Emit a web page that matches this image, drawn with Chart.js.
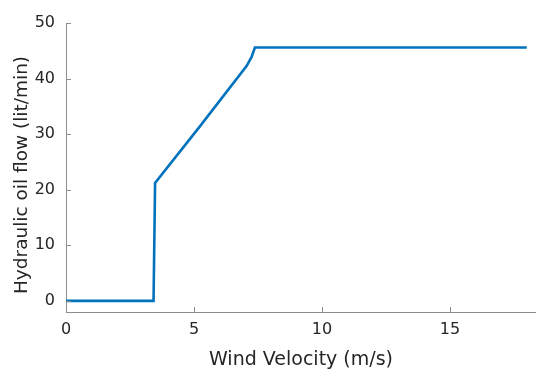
<!DOCTYPE html>
<html>
<head>
<meta charset="utf-8">
<script src="https://cdn.jsdelivr.net/npm/chart.js@4"></script>
<style>
  html, body { margin: 0; padding: 0; background: #fff; }
  #wrap { width: 536px; height: 372px; }
</style>
</head>
<body>
<div id="wrap"><canvas id="chart" width="536" height="372"></canvas></div>
<script>
'use strict';

// wind velocity (m/s) and hydraulic oil flow (lit/min)
const windVelocity = [0, 3.42, 3.48, 5.23, 7.06, 7.25, 7.38, 18.0];
const oilFlow      = [0, 0,    21.2, 31.4, 42.3, 43.9, 45.6, 45.6];

const xTicks = [0, 5, 10, 15];
const yTicks = [0, 10, 20, 30, 40, 50];

const xLabel = 'Wind Velocity (m/s)';
const yLabel = 'Hydraulic oil flow (lit/min)';

const points = windVelocity.map((v, i) => ({ x: v, y: oilFlow[i] }));

const font = "'DejaVu Sans', sans-serif";
const axisGrey = '#8c8c8c';
const textColor = '#262626';

// MATLAB-style ticks pointing into the plot, plus the y label
const axisExtras = {
    id: 'axisExtras',
    afterDraw(chart) {
        const { ctx, chartArea: a, scales: { x, y } } = chart;
        ctx.save();
        ctx.strokeStyle = axisGrey;
        ctx.lineWidth = 1;
        ctx.beginPath();
        xTicks.forEach(t => {
            const px = Math.round(x.getPixelForValue(t)) + 0.5;
            ctx.moveTo(px, a.bottom);
            ctx.lineTo(px, a.bottom - 5);
        });
        yTicks.forEach(t => {
            const py = Math.round(y.getPixelForValue(t)) + 0.5;
            ctx.moveTo(a.left, py);
            ctx.lineTo(a.left + 5, py);
        });
        ctx.stroke();

        ctx.translate(22, 175);
        ctx.rotate(-Math.PI / 2);
        ctx.fillStyle = textColor;
        ctx.font = "18.5px " + font;
        ctx.textAlign = 'center';
        ctx.textBaseline = 'middle';
        ctx.fillText(yLabel, 0, 0);
        ctx.restore();
    }
};

new Chart(document.getElementById('chart'), {
    type: 'line',
    data: {
        datasets: [{
            data: points,
            borderColor: '#0072BD',
            borderWidth: 2.6,
            pointRadius: 0,
            tension: 0,
            fill: false
        }]
    },
    plugins: [axisExtras],
    options: {
        responsive: false,
        animation: false,
        layout: { padding: { top: 23, right: 0, left: 0, bottom: 0 } },
        plugins: { legend: { display: false }, tooltip: { enabled: false } },
        scales: {
            x: {
                type: 'linear',
                min: 0,
                max: 18.36,
                afterBuildTicks: s => { s.ticks = xTicks.map(v => ({ value: v })); },
                afterFit: s => { s.height = 60; },
                grid: { display: false, drawTicks: false },
                border: { color: axisGrey, width: 1 },
                ticks: { color: textColor, font: { family: font, size: 16 }, padding: 8, maxRotation: 0 },
                title: {
                    display: true,
                    text: xLabel,
                    color: textColor,
                    font: { family: font, size: 19 },
                    padding: { top: 2, bottom: 1 }
                }
            },
            y: {
                min: -2,
                max: 50,
                afterBuildTicks: s => { s.ticks = yTicks.map(v => ({ value: v })); },
                afterFit: s => { s.width = 66; },
                grid: { display: false, drawTicks: false },
                border: { color: axisGrey, width: 1 },
                ticks: { color: textColor, font: { family: font, size: 16 }, padding: 11 },
                title: { display: false }
            }
        }
    }
});
</script>
</body>
</html>
